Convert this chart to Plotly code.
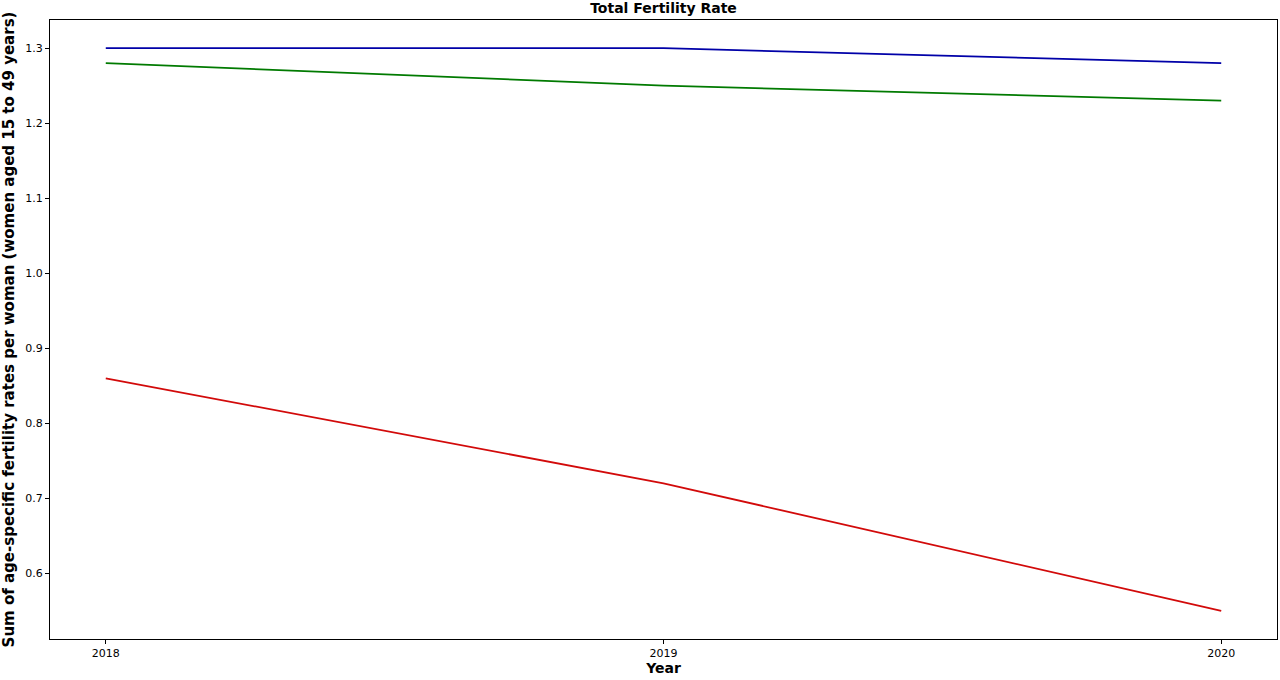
import plotly.graph_objects as go

years = [2018, 2019, 2020]
blue_series = [1.30, 1.30, 1.28]
green_series = [1.28, 1.25, 1.23]
red_series = [0.86, 0.72, 0.55]
y_ticks = [0.6, 0.7, 0.8, 0.9, 1.0, 1.1, 1.2, 1.3]

fig = go.Figure()
fig.add_trace(go.Scatter(x=years, y=blue_series, mode="lines",
                         line=dict(color="#0000a8", width=1.8)))
fig.add_trace(go.Scatter(x=years, y=green_series, mode="lines",
                         line=dict(color="#007a00", width=1.8)))
fig.add_trace(go.Scatter(x=years, y=red_series, mode="lines",
                         line=dict(color="#d20a0a", width=1.8)))

axis_style = dict(showline=True, linecolor="black", linewidth=1, mirror=True,
                  ticks="outside", ticklen=4, tickcolor="black",
                  showgrid=False, zeroline=False,
                  tickfont=dict(family="DejaVu Sans", size=11, color="black"))

fig.update_layout(
    width=1280, height=680,
    margin=dict(l=50, r=3, t=20, b=41),
    paper_bgcolor="white", plot_bgcolor="white",
    showlegend=False,
    font=dict(family="DejaVu Sans", color="black"),
    title=dict(text="<b>Total Fertility Rate</b>", x=0.5, xref="paper",
               y=1 - 8 / 680, yanchor="middle",
               font=dict(family="DejaVu Sans", size=14, color="black")),
    xaxis=dict(axis_style, range=[2017.9, 2020.1], tickvals=years,
               title=dict(text="<b>Year</b>", standoff=2,
                          font=dict(family="DejaVu Sans", size=14))),
    yaxis=dict(axis_style, range=[0.5125, 1.3375], tickvals=y_ticks,
               tickformat=".1f",
               title=dict(text="<b>Sum of age-specific fertility rates per woman (women aged 15 to 49 years)</b>",
                          standoff=9,
                          font=dict(family="DejaVu Sans", size=15))),
)

# drop the page's default body margin so the figure sits at the window corner
fig.write_html("out.html", config={"displayModeBar": False},
               post_script="document.body.style.margin='0';")
